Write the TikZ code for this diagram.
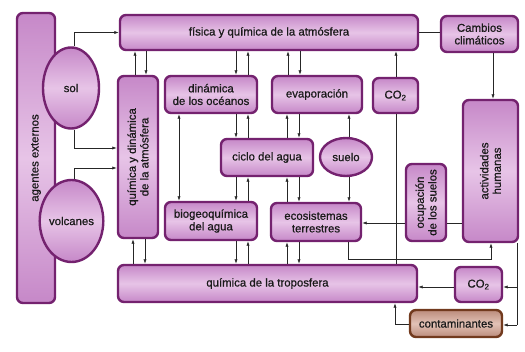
\documentclass[tikz,border=0pt]{standalone}
\usepackage{fontspec}
\setmainfont{Liberation Sans}[FakeBold=0.7]
\usetikzlibrary{arrows.meta,shapes.geometric}
\definecolor{bordc}{HTML}{74226F}
\definecolor{filla}{HTML}{C688C8}
\definecolor{fillb}{HTML}{E7C4E7}
\definecolor{brownb}{HTML}{723A1E}
\definecolor{browna}{HTML}{BC8C7C}
\definecolor{brownc}{HTML}{E2C2B6}
\definecolor{txt}{HTML}{1A1A1A}
\tikzset{
  lbl/.style={text=txt, font=\fontsize{11.4}{12.6}\selectfont, align=center},
  box/.style={lbl, draw=bordc, line width=2.4pt, rounded corners=6pt, top color=filla, bottom color=filla, middle color=fillb, inner sep=1pt},
  oval/.style={lbl, ellipse, draw=bordc, line width=2.4pt, top color=filla, bottom color=filla, middle color=fillb, inner sep=0pt},
  brownbox/.style={box, draw=brownb, top color=browna, bottom color=browna, middle color=brownc},
  conn/.style={draw=black!85, line width=0.7pt},
  arr/.style={conn, -{Latex[length=4.5pt,width=3.2pt]}},
  darr/.style={conn, {Latex[length=4.5pt,width=3.2pt]}-{Latex[length=4.5pt,width=3.2pt]}},
}
\begin{document}
\begin{tikzpicture}[x=1pt,y=-1pt]
\useasboundingbox[fill=white] (0,0) rectangle (525,352);
% nodes
\node[box, minimum width=38, minimum height=290] (agentes) at (36,158) {};
\node[lbl, rotate=90] (agentestxt) at (36,158) {agentes externos};
\node[oval, minimum width=56, minimum height=81] (sol) at (71,88) {sol};
\node[oval, minimum width=55, minimum height=82] (volcanes) at (71.5,221) {volcanes};
\node[box, minimum width=298, minimum height=35] (fisica) at (269,32.5) {física y química de la atmósfera};
\node[box, minimum width=77, minimum height=36] (cambios) at (479.5,34) {Cambios\\climáticos};
\node[box, minimum width=40, minimum height=162] (qda) at (138,157) {};
\node[lbl, rotate=90] (qdatxt) at (138,157) {química y dinámica\\de la atmósfera};
\node[box, minimum width=92, minimum height=37] (oceanos) at (211,94.5) {dinámica\\de los océanos};
\node[box, minimum width=90, minimum height=37] (evap) at (317,94.5) {evaporación};
\node[box, minimum width=45, minimum height=35] (co2a) at (395.5,95.5) {CO\textsubscript{2}};
\node[box, minimum width=92, minimum height=37] (ciclo) at (267,157.5) {ciclo del agua};
\node[oval, minimum width=52, minimum height=38] (suelo) at (346,157) {suelo};
\node[box, minimum width=92, minimum height=38] (bio) at (211,221) {biogeoquímica\\del agua};
\node[box, minimum width=90, minimum height=38] (eco) at (316,222) {ecosistemas\\terrestres};
\node[box, minimum width=40, minimum height=77] (ocup) at (426,202.5) {};
\node[lbl, rotate=90] (ocuptxt) at (426,202.5) {ocupación\\de los suelos};
\node[box, minimum width=55, minimum height=142] (act) at (490.5,171) {};
\node[lbl, rotate=90] (acttxt) at (490.5,171) {actividades\\humanas};
\node[box, minimum width=299, minimum height=37] (tropo) at (267.5,283.5) {química de la troposfera};
\node[box, minimum width=47, minimum height=35] (co2b) at (478.5,284.5) {CO\textsubscript{2}};
\node[brownbox, minimum width=92, minimum height=27] (cont) at (456,323.5) {contaminantes};
% helper coordinates
\coordinate (c1) at (348,259);
\coordinate (c2) at (517,287);
\coordinate (c3) at (517,325);
% connectors
\draw[arr] (sol.north -| 74,0) |- (fisica.west);
\draw[arr] (sol.south -| 74,0) |- (qda.west |- 0,148);
\draw[arr] (volcanes.north -| 74,0) |- (qda.west |- 0,168);
\draw[arr] (qda.north -| 135,0) -- (fisica.south -| 135,0);
\draw[arr] (fisica.south -| 146,0) -- (qda.north -| 146,0);
\draw[arr] (fisica.south -| 236,0) -- (oceanos.north -| 236,0);
\draw[arr] (oceanos.north -| 248,0) -- (fisica.south -| 248,0);
\draw[arr] (evap.north -| 288,0) -- (fisica.south -| 288,0);
\draw[arr] (fisica.south -| 300,0) -- (evap.north -| 300,0);
\draw[arr] (co2a.north -| 396,0) -- (fisica.south -| 396,0);
\draw[conn] (tropo.north -| 396,0) -- (co2a.south -| 396,0);
\draw[conn] (fisica.east) -- (cambios.west |- fisica.east);
\draw[arr] (cambios.south -| 493,0) -- (act.north -| 493,0);
\draw[arr] (oceanos.south -| 236,0) -- (ciclo.north -| 236,0);
\draw[arr] (ciclo.north -| 248,0) -- (oceanos.south -| 248,0);
\draw[darr] (oceanos.south -| 179,0) -- (bio.north -| 179,0);
\draw[arr] (ciclo.north -| 287,0) -- (evap.south -| 287,0);
\draw[arr] (evap.south -| 299,0) -- (ciclo.north -| 299,0);
\draw[arr] (suelo.north -| 349,0) -- (evap.south -| 349,0);
\draw[arr] (suelo.south -| 349,0) -- (eco.north -| 349,0);
\draw[arr] (ciclo.south -| 236,0) -- (bio.north -| 236,0);
\draw[arr] (bio.north -| 248,0) -- (ciclo.south -| 248,0);
\draw[arr] (eco.north -| 287,0) -- (ciclo.south -| 287,0);
\draw[arr] (ciclo.south -| 299,0) -- (eco.north -| 299,0);
\draw[arr] (tropo.north -| 133,0) -- (qda.south -| 133,0);
\draw[arr] (qda.south -| 145,0) -- (tropo.north -| 145,0);
\draw[arr] (bio.south -| 236,0) -- (tropo.north -| 236,0);
\draw[arr] (tropo.north -| 248,0) -- (bio.south -| 248,0);
\draw[arr] (tropo.north -| 287,0) -- (eco.south -| 287,0);
\draw[arr] (eco.south -| 299,0) -- (tropo.north -| 299,0);
\draw[arr] (ocup.west |- 0,223) -- (eco.east |- 0,223);
\draw[conn] (act.west |- 0,223) -- (ocup.east |- 0,223);
\draw[arr] (eco.south -| c1) -- (c1) -| (act.south -| 491,0);
\draw[conn] (act.south -| c3) -- (c3);
\draw[arr] (c2) -- (co2b.east |- c2);
\draw[arr] (c3) -- (cont.east |- c3);
\draw[arr] (co2b.west |- 0,287) -- (tropo.east |- 0,287);
\draw[arr] (cont.west |- 0,324) -| (tropo.south -| 395,0);
\end{tikzpicture}
\end{document}
